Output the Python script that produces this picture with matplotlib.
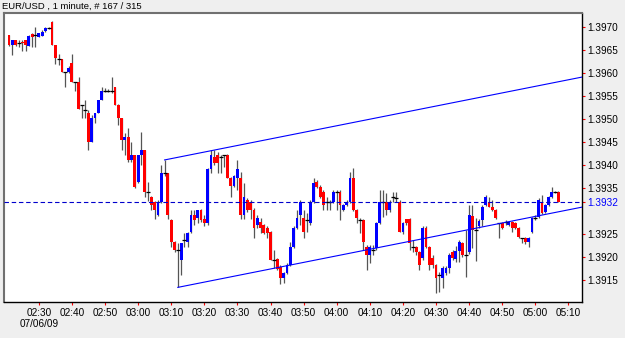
import matplotlib
matplotlib.use("Agg")
import numpy as np
import matplotlib.pyplot as plt

plt.rcParams['font.family'] = ['Liberation Sans', 'DejaVu Sans']

symbol = "EUR/USD , 1 minute, # 167 / 315"
date_label = "07/06/09"
start_time = "02:21"

# one minute bars, 02:21 .. 05:07
opens = [
    1.39683, 1.39661, 1.39672, 1.39665, 1.39667, 1.39672, 1.39659, 1.39685, 1.39683, 1.39678, 1.39680, 1.39691, 1.39698,
    1.39711, 1.39661, 1.39630, 1.39630, 1.39602, 1.39602, 1.39622, 1.39580,
    1.39580, 1.39530, 1.39520, 1.39513, 1.39450, 1.39502, 1.39513, 1.39541, 1.39561, 1.39561,
    1.39561, 1.39570, 1.39530, 1.39502, 1.39454, 1.39461, 1.39411, 1.39422, 1.39363, 1.39422,
    1.39433, 1.39341, 1.39330, 1.39320, 1.39291, 1.39320, 1.39383, 1.39383, 1.39280, 1.39233,
    1.39215, 1.39193, 1.39237, 1.39233, 1.39254, 1.39291, 1.39285, 1.39302, 1.39283, 1.39274,
    1.39391, 1.39417, 1.39422, 1.39417, 1.39422, 1.39422, 1.39372, 1.39354, 1.39372, 1.39372,
    1.39291, 1.39324, 1.39320, 1.39302, 1.39270, 1.39276, 1.39270, 1.39263, 1.39254, 1.39193,
    1.39196, 1.39178, 1.39154, 1.39165, 1.39183, 1.39222, 1.39263, 1.39291, 1.39285, 1.39280,
    1.39274, 1.39320, 1.39363, 1.39352, 1.39341, 1.39320, 1.39320, 1.39320, 1.39341, 1.39341,
    1.39302, 1.39313, 1.39320, 1.39372, 1.39302, 1.39280, 1.39280, 1.39222, 1.39204, 1.39215,
    1.39220, 1.39274, 1.39320, 1.39320, 1.39302, 1.39330, 1.39328, 1.39320, 1.39254, 1.39283,
    1.39283, 1.39222, 1.39222, 1.39211, 1.39198, 1.39263, 1.39222, 1.39198, 1.39183, 1.39161,
    1.39154, 1.39165, 1.39176, 1.39211, 1.39196, 1.39213, 1.39230, 1.39204, 1.39211, 1.39289,
    1.39259, 1.39267, 1.39280, 1.39313, 1.39320, 1.39309, 1.39302, 1.39274, 1.39274, 1.39276,
    1.39270, 1.39276, 1.39274, 1.39263, 1.39241, 1.39241, 1.39233, 1.39254, 1.39285, 1.39287,
    1.39320, 1.39298, 1.39313, 1.39330, 1.39341, 1.39341,
]
highs = [
    1.39683, 1.39672, 1.39672, 1.39672, 1.39672, 1.39672, 1.39683, 1.39687, 1.39700, 1.39687, 1.39693, 1.39700, 1.39700,
    1.39713, 1.39661, 1.39641, 1.39630, 1.39602, 1.39615, 1.39641, 1.39580,
    1.39591, 1.39530, 1.39541, 1.39520, 1.39509, 1.39513, 1.39541, 1.39570, 1.39567, 1.39565,
    1.39591, 1.39570, 1.39533, 1.39502, 1.39470, 1.39480, 1.39450, 1.39422, 1.39422, 1.39472,
    1.39433, 1.39363, 1.39333, 1.39322, 1.39324, 1.39400, 1.39411, 1.39383, 1.39283, 1.39235,
    1.39230, 1.39230, 1.39252, 1.39254, 1.39302, 1.39302, 1.39302, 1.39304, 1.39291, 1.39393,
    1.39433, 1.39433, 1.39428, 1.39422, 1.39422, 1.39424, 1.39374, 1.39378, 1.39411, 1.39385,
    1.39361, 1.39328, 1.39324, 1.39307, 1.39291, 1.39285, 1.39272, 1.39267, 1.39257, 1.39215,
    1.39198, 1.39183, 1.39167, 1.39187, 1.39233, 1.39267, 1.39302, 1.39324, 1.39302, 1.39296,
    1.39324, 1.39372, 1.39367, 1.39357, 1.39346, 1.39330, 1.39324, 1.39346, 1.39346, 1.39346,
    1.39315, 1.39324, 1.39385, 1.39393, 1.39304, 1.39285, 1.39283, 1.39226, 1.39226, 1.39226,
    1.39276, 1.39346, 1.39346, 1.39339, 1.39324, 1.39341, 1.39341, 1.39324, 1.39276, 1.39283,
    1.39285, 1.39237, 1.39224, 1.39213, 1.39267, 1.39267, 1.39224, 1.39204, 1.39185, 1.39167,
    1.39180, 1.39180, 1.39209, 1.39215, 1.39224, 1.39237, 1.39233, 1.39259, 1.39313, 1.39313,
    1.39285, 1.39283, 1.39313, 1.39335, 1.39330, 1.39324, 1.39304, 1.39274, 1.39276, 1.39280,
    1.39278, 1.39278, 1.39276, 1.39265, 1.39241, 1.39243, 1.39243, 1.39287, 1.39291, 1.39328,
    1.39335, 1.39315, 1.39333, 1.39352, 1.39343, 1.39343,
]
lows = [
    1.39659, 1.39639, 1.39659, 1.39657, 1.39648, 1.39648, 1.39659, 1.39657, 1.39657, 1.39678, 1.39680, 1.39689, 1.39696,
    1.39661, 1.39620, 1.39617, 1.39602, 1.39570, 1.39600, 1.39580, 1.39561,
    1.39522, 1.39502, 1.39502, 1.39433, 1.39450, 1.39491, 1.39513, 1.39541, 1.39559, 1.39559,
    1.39557, 1.39530, 1.39487, 1.39433, 1.39422, 1.39407, 1.39407, 1.39350, 1.39361, 1.39400,
    1.39330, 1.39322, 1.39302, 1.39283, 1.39289, 1.39317, 1.39376, 1.39283, 1.39222, 1.39211,
    1.39135, 1.39161, 1.39222, 1.39222, 1.39252, 1.39270, 1.39274, 1.39276, 1.39267, 1.39270,
    1.39383, 1.39400, 1.39383, 1.39383, 1.39396, 1.39372, 1.39330, 1.39352, 1.39346, 1.39283,
    1.39283, 1.39298, 1.39283, 1.39241, 1.39263, 1.39252, 1.39250, 1.39241, 1.39193, 1.39176,
    1.39172, 1.39141, 1.39143, 1.39163, 1.39180, 1.39220, 1.39261, 1.39270, 1.39241, 1.39254,
    1.39270, 1.39317, 1.39350, 1.39328, 1.39302, 1.39302, 1.39302, 1.39317, 1.39302, 1.39280,
    1.39300, 1.39311, 1.39317, 1.39300, 1.39274, 1.39252, 1.39215, 1.39172, 1.39187, 1.39204,
    1.39215, 1.39272, 1.39287, 1.39291, 1.39298, 1.39320, 1.39320, 1.39254, 1.39250, 1.39270,
    1.39215, 1.39211, 1.39204, 1.39172, 1.39193, 1.39220, 1.39172, 1.39176, 1.39122, 1.39124,
    1.39133, 1.39161, 1.39165, 1.39193, 1.39189, 1.39189, 1.39200, 1.39157, 1.39207, 1.39220,
    1.39191, 1.39263, 1.39267, 1.39311, 1.39309, 1.39300, 1.39283, 1.39241, 1.39261, 1.39270,
    1.39267, 1.39254, 1.39261, 1.39241, 1.39230, 1.39228, 1.39222, 1.39252, 1.39280, 1.39285,
    1.39293, 1.39296, 1.39311, 1.39328, 1.39339, 1.39320,
]
closes = [
    1.39661, 1.39672, 1.39661, 1.39665, 1.39665, 1.39661, 1.39680, 1.39678, 1.39683, 1.39687, 1.39689, 1.39698, 1.39698,
    1.39661, 1.39633, 1.39630, 1.39602, 1.39602, 1.39611, 1.39580, 1.39580,
    1.39522, 1.39530, 1.39520, 1.39450, 1.39502, 1.39513, 1.39541, 1.39561, 1.39561, 1.39561,
    1.39561, 1.39530, 1.39502, 1.39454, 1.39461, 1.39411, 1.39422, 1.39352, 1.39422, 1.39433,
    1.39341, 1.39341, 1.39313, 1.39302, 1.39320, 1.39383, 1.39383, 1.39291, 1.39233, 1.39215,
    1.39215, 1.39230, 1.39237, 1.39252, 1.39291, 1.39280, 1.39302, 1.39280, 1.39274, 1.39391,
    1.39422, 1.39404, 1.39404, 1.39417, 1.39422, 1.39372, 1.39354, 1.39376, 1.39391, 1.39291,
    1.39330, 1.39302, 1.39302, 1.39263, 1.39285, 1.39263, 1.39252, 1.39252, 1.39193, 1.39193,
    1.39174, 1.39154, 1.39165, 1.39183, 1.39222, 1.39263, 1.39285, 1.39320, 1.39254, 1.39280,
    1.39320, 1.39361, 1.39352, 1.39330, 1.39313, 1.39320, 1.39320, 1.39341, 1.39341, 1.39313,
    1.39313, 1.39320, 1.39372, 1.39302, 1.39285, 1.39280, 1.39233, 1.39204, 1.39222, 1.39215,
    1.39274, 1.39320, 1.39320, 1.39302, 1.39320, 1.39330, 1.39328, 1.39254, 1.39274, 1.39274,
    1.39230, 1.39222, 1.39211, 1.39183, 1.39263, 1.39222, 1.39183, 1.39183, 1.39154, 1.39161,
    1.39176, 1.39176, 1.39204, 1.39198, 1.39213, 1.39233, 1.39204, 1.39204, 1.39291, 1.39259,
    1.39259, 1.39278, 1.39309, 1.39330, 1.39309, 1.39302, 1.39285, 1.39274, 1.39263, 1.39276,
    1.39276, 1.39263, 1.39263, 1.39243, 1.39241, 1.39233, 1.39241, 1.39285, 1.39285, 1.39324,
    1.39296, 1.39313, 1.39330, 1.39341, 1.39341, 1.39320,
]

# channel drawn on the chart: anchor bars and prices
channel_bars = [47, 173]
channel_upper = [1.39411, 1.39591]
channel_lower_start = (51, 1.39134)

time_labels = ["02:30", "02:40", "02:50", "03:00", "03:10", "03:20", "03:30", "03:40", "03:50",
               "04:00", "04:10", "04:20", "04:30", "04:40", "04:50", "05:00", "05:10"]
price_labels = ["1.3915", "1.3920", "1.3925", "1.3935", "1.3940", "1.3945",
                "1.3950", "1.3955", "1.3960", "1.3965", "1.3970"]

o = np.array(opens)
h = np.array(highs)
l = np.array(lows)
c = np.array(closes)
x = np.arange(len(o))


def minutes(s):
    hh, mm = s.split(":")
    return int(hh) * 60 + int(mm)


t0 = minutes(start_time)
tick_pos = [minutes(s) - t0 for s in time_labels]

fig = plt.figure(figsize=(6.25, 3.38), dpi=100, facecolor="#efefef")
ax = fig.add_axes([0.0056, 0.1065, 0.9256, 0.855])
ax.set_facecolor("white")

width = 0.85
ax.vlines(x, l, h, color="#555555", linewidth=0.9, zorder=2)
up = c - o > 0.000015
down = o - c > 0.000015
flat = ~(up | down)
ax.bar(x[up], (c - o)[up], bottom=o[up], width=width, color="#0000ff", linewidth=0, zorder=3)
ax.bar(x[down], (o - c)[down], bottom=c[down], width=width, color="#ff0000", linewidth=0, zorder=3)
ax.hlines(c[flat], x[flat] - 0.6, x[flat] + 0.6, color="black", linewidth=0.9, zorder=3)

# channel lines
slope = (channel_upper[1] - channel_upper[0]) / (channel_bars[1] - channel_bars[0])
ax.plot(channel_bars, channel_upper, color="#0000ff", linewidth=0.8, zorder=4)
lx = [channel_lower_start[0], channel_bars[1]]
ly = [channel_lower_start[1], channel_lower_start[1] + slope * (channel_bars[1] - channel_lower_start[0])]
ax.plot(lx, ly, color="#0000ff", linewidth=0.8, zorder=4)

# bid line
bid = c[-1]
ax.axhline(bid, color="#0000cc", linewidth=0.8, linestyle=(0, (4, 2.5)), zorder=4)

ax.set_xlim(-1.66, 173.1)
ax.set_ylim(1.391022, 1.397304)

ax.set_xticks(tick_pos)
ax.set_xticklabels(time_labels)
yt = [float(s) for s in price_labels] + [bid]
ax.set_yticks(yt)
ax.set_yticklabels(price_labels + [f"{bid:.4f}"])
ax.yaxis.tick_right()
ax.tick_params(axis="both", direction="out", length=2.5, width=0.8, color="#ff0000",
               labelsize=7.2, labelcolor="black")
ax.tick_params(axis="x", pad=1.5)
ax.tick_params(axis="y", pad=1.2)
ax.get_yticklabels()[-1].set_color("#0000ff")
ax.yaxis.get_major_ticks()[-1].tick2line.set_color("#0000ff")

for side in ["left", "top"]:
    ax.spines[side].set_color("#707070")
    ax.spines[side].set_linewidth(1.5)
for side in ["right", "bottom"]:
    ax.spines[side].set_color("black")
    ax.spines[side].set_linewidth(1.0)

fig.text(0.003, 0.981, symbol, fontsize=6.8, ha="left", va="center")
fig.text(0.031, 0.041, date_label, fontsize=7.2, ha="left", va="center")

fig.savefig("out.png", dpi=100, facecolor=fig.get_facecolor())
